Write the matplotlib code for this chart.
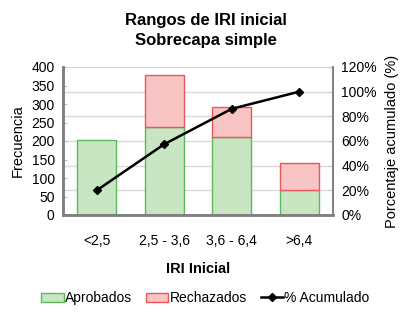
import matplotlib.pyplot as plt
import numpy as np
from matplotlib.patches import Patch
from matplotlib.lines import Line2D

plt.rcParams['font.family'] = ['Liberation Sans', 'DejaVu Sans']

categories = ['<2,5', '2,5 - 3,6', '3,6 - 6,4', '>6,4']
aprobados = [203, 237, 212, 68]
rechazados = [0, 141, 79, 73]
acumulado = [20.0, 57.4, 86.1, 100.0]

green_fill = '#c8e6c2'
green_edge = '#5cb85c'
red_fill = '#f9c4c4'
red_edge = '#e8585a'
spine_col = '#7f7f7f'

fig = plt.figure(figsize=(4.11, 3.14), dpi=100)
ax = fig.add_axes([63 / 411, 1 - 215 / 314, 270 / 411, 148 / 314])
ax2 = ax.twinx()

x = np.arange(len(categories))
w = 0.58
ax.bar(x, aprobados, w, color=green_fill, edgecolor=green_edge, linewidth=1, zorder=2)
# only draw the rejected part where there is one
idx = [i for i, r in enumerate(rechazados) if r > 0]
ax.bar(x[idx], [rechazados[i] for i in idx], w, bottom=[aprobados[i] for i in idx],
       color=red_fill, edgecolor=red_edge, linewidth=1, zorder=2)

# gridlines follow the right axis ticks (every 20%)
for v in range(20, 121, 20):
    ax.axhline(v * 400 / 120, color='#d9d9d9', linewidth=1, zorder=0)

ax.set_xlim(-0.5, 3.5)
ax.set_ylim(0, 400)
ax.set_yticks(range(0, 401, 50))
ax.set_xticks(x)
ax.set_xticklabels(categories, fontsize=10)
ax.tick_params(axis='x', length=0, pad=14)
ax.tick_params(axis='y', direction='in', length=3, color='#bfbfbf', labelsize=10, pad=6)

ax2.plot(x, acumulado, color='black', linewidth=1.8, marker='D', markersize=4.5, zorder=5)
ax2.set_ylim(0, 120)
ax2.set_yticks(range(0, 121, 20))
ax2.set_yticklabels([f'{v}%' for v in range(0, 121, 20)])
ax2.tick_params(axis='y', direction='in', length=3, color='#bfbfbf', labelsize=10, pad=6)

for a in (ax, ax2):
    a.spines['top'].set_visible(False)
    a.spines['left'].set_color(spine_col)
    a.spines['right'].set_color(spine_col)
    a.spines['bottom'].set_color(spine_col)
    a.spines['left'].set_linewidth(1.8)
    a.spines['right'].set_linewidth(1.2)
    a.spines['bottom'].set_linewidth(1.8)

ax.set_ylabel('Frecuencia', fontsize=10.5, labelpad=5)
ax2.set_ylabel('Porcentaje acumulado (%)', fontsize=10.5, labelpad=6)
ax.set_xlabel('IRI Inicial', fontsize=10.5, fontweight='bold', labelpad=10)

fig.text(0.5, 1 - 20 / 314, 'Rangos de IRI inicial', ha='center', va='center',
         fontsize=12, fontweight='bold')
fig.text(0.5, 1 - 41 / 314, 'Sobrecapa simple', ha='center', va='center',
         fontsize=12, fontweight='bold')

handles = [
    Patch(facecolor=green_fill, edgecolor=green_edge),
    Patch(facecolor=red_fill, edgecolor=red_edge),
    Line2D([0], [0], color='black', linewidth=1.8, marker='D', markersize=4),
]
fig.legend(handles, ['Aprobados', 'Rechazados', '% Acumulado'], loc='center',
           bbox_to_anchor=(0.5, 1 - 298 / 314), ncol=3, frameon=False, fontsize=10,
           handlelength=1.6, handleheight=0.6, handletextpad=0.1, columnspacing=1.0)

fig.savefig('out.png', dpi=100)
